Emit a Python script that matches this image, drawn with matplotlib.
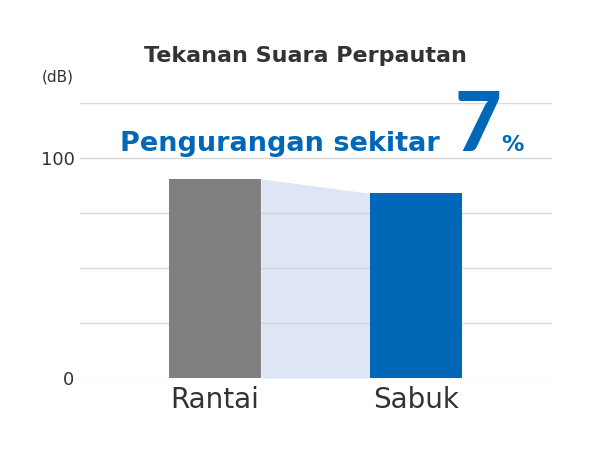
import matplotlib.pyplot as plt

# values (dB)
categories = ['Rantai', 'Sabuk']
values = [90.5, 84.0]
bar_colors = ['#808080', '#0068b7']
y_ticks = [0, 25, 50, 75, 100, 125]
y_tick_labels = ['0', '', '', '', '100', '']

title = 'Tekanan Suara Perpautan'
unit = '(dB)'
note = 'Pengurangan sekitar'
note_num = '7'
note_pct = '%'

plt.rcParams['font.family'] = ['DejaVu Sans']

W, H = 600, 450
fig = plt.figure(figsize=(6, 4.5), dpi=100)
ax = fig.add_axes([80 / W, 1 - 378 / H, 472 / W, 275 / H])

x = [0, 1]
bw = 0.458
ax.bar(x, values, width=bw, color=bar_colors, zorder=3)

# light band joining the two bar tops
ax.fill_between([x[0] + bw / 2, x[1] - bw / 2], [values[0], values[1]], 0,
                color='#dee5f4', lw=0, zorder=1)

ax.set_xlim(-0.672, 1.677)
ax.set_ylim(0, 125)
ax.set_yticks(y_ticks)
ax.set_yticklabels(y_tick_labels)
ax.set_xticks(x)
ax.set_xticklabels(categories)
ax.grid(axis='y', color='#cfcfcf', lw=1, alpha=0.8, zorder=2)
ax.set_axisbelow(False)
for s in ax.spines.values():
    s.set_visible(False)
ax.tick_params(axis='y', length=0, pad=4, labelsize=13, labelcolor='#333333')
ax.tick_params(axis='x', length=0, pad=6, labelsize=20, labelcolor='#333333')

def px(xp, yp):
    return xp / W, 1 - yp / H

fig.text(*px(305, 62), title, ha='center', va='baseline', fontsize=16,
         fontweight='bold', color='#333333')
fig.text(*px(58, 82), unit, ha='center', va='baseline', fontsize=11, color='#333333')
fig.text(*px(120, 151), note, ha='left', va='baseline', fontsize=19.5,
         fontweight='bold', color='#0068b7')
fig.text(*px(455, 151), note_num, ha='left', va='baseline', fontsize=58,
         fontweight='black', color='#0068b7', family=['Lato', 'DejaVu Sans'])
fig.text(*px(501, 151), note_pct, ha='left', va='baseline', fontsize=16,
         fontweight='bold', color='#0068b7')

fig.savefig('out.png', dpi=100)
